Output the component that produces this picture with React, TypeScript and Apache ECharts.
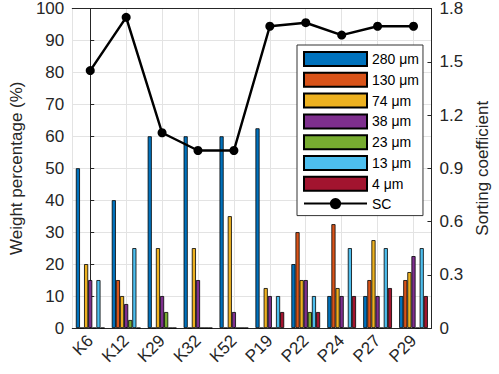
import React, { useEffect, useRef } from "react";
import * as echarts from "echarts";

const categories = ["K6", "K12", "K29", "K32", "K52", "P19", "P22", "P24", "P27", "P29"];
const sizeNames = ["280 μm", "130 μm", "74 μm", "38 μm", "23 μm", "13 μm", "4 μm"];
const s280 = [50, 40, 60, 60, 60, 62.5, 20, 10, 10, 10];
const s130 = [0, 15, 0, 0, 0, 0, 30, 32.5, 15, 15];
const s74 = [20, 10, 25, 25, 35, 12.5, 15, 12.5, 27.5, 17.5];
const s38 = [15, 7.5, 10, 15, 5, 10, 15, 10, 10, 22.5];
const s23 = [0, 2.5, 5, 0, 0, 0, 5, 0, 0, 0];
const s13 = [15, 25, 0, 0, 0, 10, 10, 25, 25, 25];
const s4 = [0, 0, 0, 0, 0, 5, 5, 10, 12.5, 10];
const sc = [1.45, 1.75, 1.1, 1.0, 1.0, 1.7, 1.72, 1.65, 1.7, 1.7];
const colors = ["#0072BD", "#D95319", "#EDB120", "#7E2F8E", "#77AC30", "#4DBEEE", "#A2142F"];

const FONT = "Liberation Sans, Arial, Helvetica, sans-serif";
const AXC = "#262626";

export default function App() {
  const ref = useRef<HTMLDivElement>(null);
  useEffect(() => {
    if (!ref.current) return;
    const chart = echarts.init(ref.current, undefined, { renderer: "svg" });
    const barData = [s280, s130, s74, s38, s23, s13, s4];
    const barSeries = barData.map((d, i) => ({
      name: sizeNames[i],
      type: "bar",
      xAxisIndex: 0,
      yAxisIndex: 0,
      data: d,
      barGap: "0%",
      barCategoryGap: "20%",
      itemStyle: { color: colors[i], borderColor: "#000", borderWidth: 0.8 },
      z: 3,
    }));
    chart.setOption({
      animation: false,
      textStyle: { fontFamily: FONT },
      grid: { left: 62, right: 63, top: 7, bottom: 46, containLabel: false },
      legend: {
        orient: "vertical",
        left: 297,
        top: 45,
        z: 20,
        padding: [6, 4, 5, 6],
        itemWidth: 63,
        itemHeight: 14,
        itemGap: 4.8,
        backgroundColor: "#fff",
        borderColor: "#333",
        borderWidth: 1,
        textStyle: { fontFamily: FONT, fontSize: 14, color: "#000" },
        data: [...sizeNames.map((n) => ({ name: n, icon: "rect" })), { name: "SC" }],
      },
      xAxis: [
        {
          type: "category",
          data: categories,
          position: "bottom",
          boundaryGap: true,
          axisLine: { show: true, lineStyle: { color: AXC, width: 1 } },
          axisTick: { show: true, inside: true, alignWithLabel: true, length: 4, lineStyle: { color: AXC } },
          axisLabel: { rotate: 45, fontSize: 17, color: AXC, fontFamily: FONT, margin: 10 },
          splitLine: { show: false },
        },
        {
          type: "value",
          position: "top",
          min: -0.5,
          max: 9.5,
          splitNumber: 10,
          minInterval: 1,
          maxInterval: 1,
          axisLine: { show: true, onZero: false, lineStyle: { color: AXC, width: 1 } },
          axisTick: { show: false },
          axisLabel: { show: false },
          splitLine: { show: true, lineStyle: { color: "#e3e3e3", width: 1 } },
        },
      ],
      yAxis: [
        {
          type: "value",
          min: 0,
          max: 100,
          interval: 10,
          position: "left",
          name: "Weight percentage (%)",
          nameLocation: "middle",
          nameGap: 40,
          nameTextStyle: { fontSize: 17, color: AXC, fontFamily: FONT },
          axisLine: { show: true, lineStyle: { color: AXC, width: 1 } },
          axisTick: { show: true, inside: true, length: 4, lineStyle: { color: AXC } },
          axisLabel: { fontSize: 17, color: AXC, fontFamily: FONT, margin: 8 },
          splitLine: { show: true, lineStyle: { color: "#e3e3e3", width: 1 } },
        },
        {
          type: "value",
          min: 0,
          max: 1.8,
          interval: 0.3,
          position: "right",
          name: "Sorting coefficient",
          nameLocation: "middle",
          nameGap: 41,
          nameRotate: 90,
          nameTextStyle: { fontSize: 17, color: AXC, fontFamily: FONT },
          axisLine: { show: true, lineStyle: { color: AXC, width: 1 } },
          axisTick: { show: true, inside: true, length: 4, lineStyle: { color: AXC } },
          axisLabel: { fontSize: 17, color: AXC, fontFamily: FONT, margin: 8, formatter: (v: number) => String(Math.round(v * 10) / 10) },
          splitLine: { show: false },
        },
      ],
      series: [
        ...barSeries,
        {
          name: "SC",
          type: "line",
          xAxisIndex: 0,
          yAxisIndex: 1,
          data: sc,
          symbol: "circle",
          symbolSize: 9,
          lineStyle: { color: "#000", width: 2.5 },
          itemStyle: { color: "#000" },
          z: 5,
        },
      ],
    });
    return () => chart.dispose();
  }, []);
  return <div ref={ref} style={{ width: 499, height: 374, position: "absolute", left: 0, top: 0 }} />;
}
